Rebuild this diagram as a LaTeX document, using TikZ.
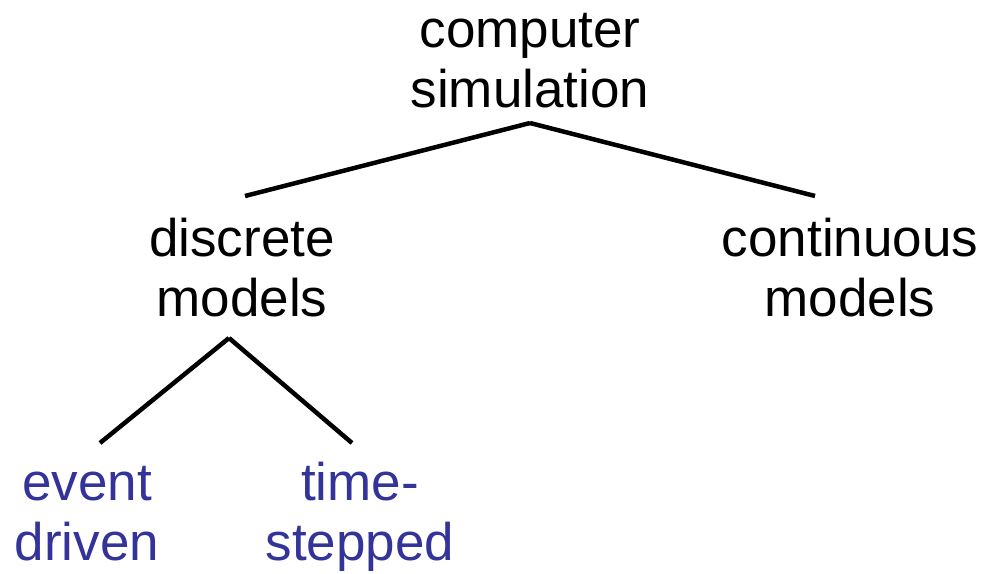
\documentclass[tikz,border=0pt]{standalone}
\usepackage{fontspec}
\setmainfont{Liberation Sans}
\usetikzlibrary{calc}
\definecolor{leafblue}{RGB}{51,51,153}
\begin{document}
\begin{tikzpicture}[x=1pt,y=1pt,
  lbl/.style={align=center,anchor=base,inner sep=0pt,font=\fontsize{53}{60}\selectfont},
  leaf/.style={lbl,text=leafblue},
  edge/.style={line width=4.5pt}]
\useasboundingbox (0,0) rectangle (984,-573);
\node[lbl] (cs) at (530,-107) {computer\\simulation};
\node[lbl] (dm) at (242,-316) {discrete\\models};
\node[lbl] (cm) at (850,-316) {continuous\\models};
\node[leaf] (ed) at (87,-560) {event\\driven};
\node[leaf] (ts) at (360,-560) {time-\\stepped};
\draw[edge] ($(cs.base)+(0,-16)$) -- ($(dm.base)+(3,120)$);
\draw[edge] ($(cs.base)+(0,-16)$) -- ($(cm.base)+(-35,120)$);
\draw[edge] ($(dm.base)+(-13,-22)$) -- ($(ed.base)+(13,117)$);
\draw[edge] ($(dm.base)+(-13,-22)$) -- ($(ts.base)+(-8,117)$);
\end{tikzpicture}
\end{document}
